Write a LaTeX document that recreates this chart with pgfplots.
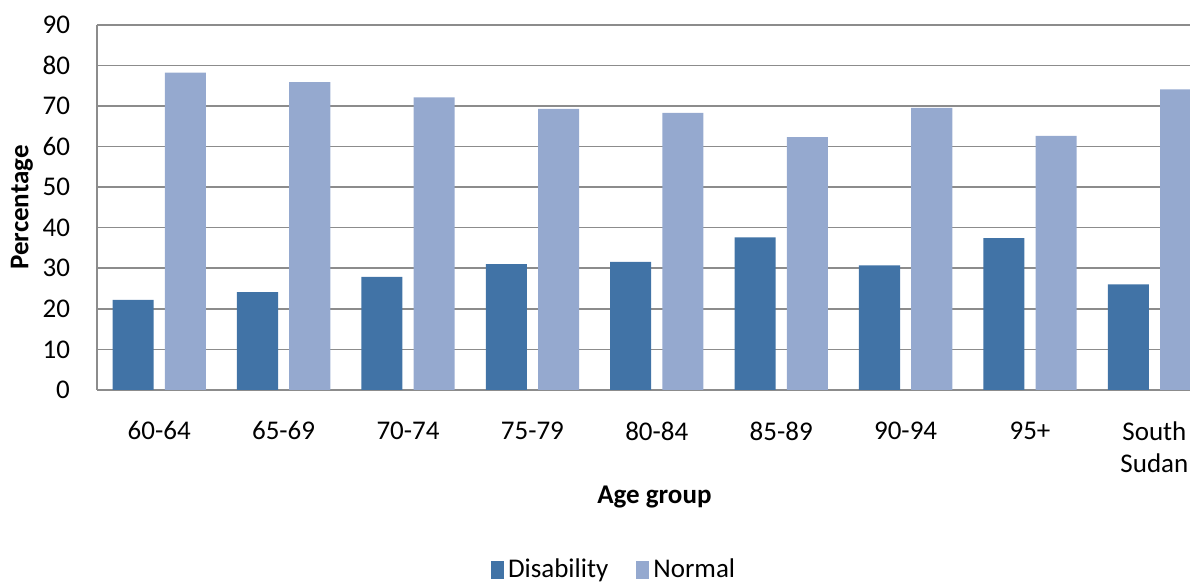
\documentclass[border=0pt]{standalone}
\usepackage{pgfplots}
\pgfplotsset{compat=1.18}
\usepackage{fontspec}
\setmainfont{Carlito}
\definecolor{dis}{HTML}{4173A6}
\definecolor{nor}{HTML}{95A9CF}
\definecolor{gridc}{HTML}{8C8C8C}
\begin{document}
\begin{tikzpicture}
\useasboundingbox (-48.5pt,-96pt) rectangle (546.5pt,195pt);
\begin{axis}[
  scale only axis,
  width=546.5pt, height=182.6pt,
  xmin=-0.5, xmax=8.286,
  ymin=0, ymax=90,
  ytick={0,10,...,90},
  xtick={0,...,8},
  xticklabels={60-64,65-69,70-74,75-79,80-84,85-89,90-94,95+,{South\\Sudan}},
  axis x line*=bottom, axis y line*=left,
  axis line style={gridc, line width=0.8pt},
  ymajorgrids, grid style={gridc, line width=0.8pt},
  major tick style={draw=none},
  /pgf/number format/assume math mode=true,
  tick label style={font=\fontsize{13.5}{16}\selectfont},
  yticklabel style={xshift=-10pt},
  xticklabel style={align=center, yshift=-8pt},
  ybar, bar width=0.33,
  xlabel={\textbf{Age group}},
  ylabel={\textbf{Percentage}},
  label style={font=\fontsize{13.5}{16}\selectfont},
  xlabel style={at={(axis description cs:0.51,-0.293)}, anchor=center},
  ylabel style={at={(axis description cs:-0.0686,0.5)}, anchor=center},
  legend style={at={(axis description cs:0.474,-0.493)}, anchor=center, draw=none,
     legend columns=2, font=\fontsize{13.5}{16}\selectfont,
     /tikz/every even column/.append style={column sep=12pt}},
  legend image code/.code={\fill[#1] (-2pt,-4.5pt) rectangle (4.5pt,4.5pt);},
  clip=true,
]
\addplot[fill=dis, draw=none, bar shift=0pt] coordinates {
 (-0.21,22.2) (0.79,24.1) (1.79,27.9) (2.79,31.0) (3.79,31.6) (4.79,37.6) (5.79,30.7) (6.79,37.4) (7.79,26.0)};
\addlegendentry{Disability}
\addplot[fill=nor, draw=none, bar shift=0pt] coordinates {
 (0.21,78.2) (1.21,75.9) (2.21,72.1) (3.21,69.3) (4.21,68.3) (5.21,62.3) (6.21,69.5) (7.21,62.6) (8.21,74.1)};
\addlegendentry{Normal}
\end{axis}
\end{tikzpicture}
\end{document}
